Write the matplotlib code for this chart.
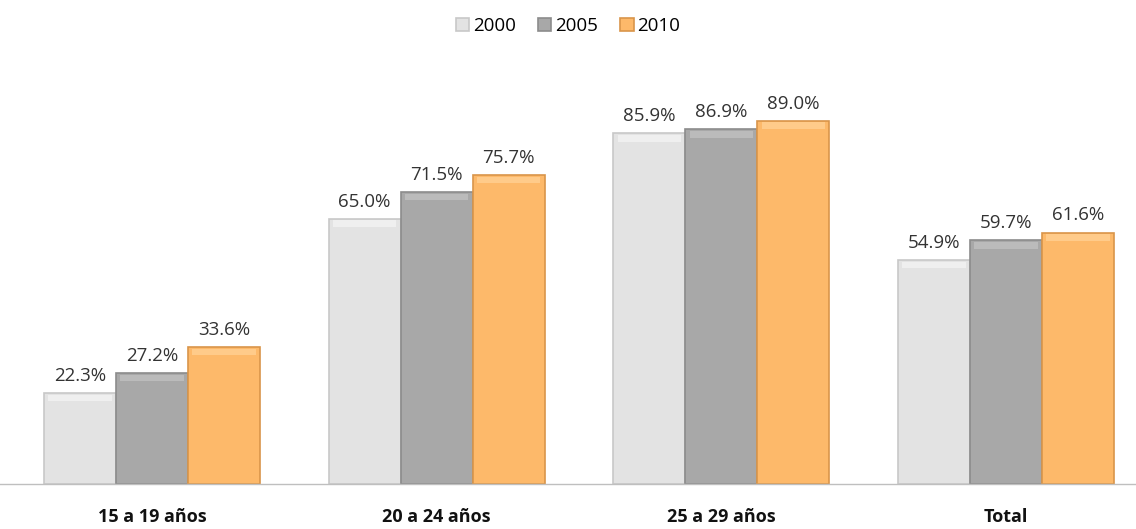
import numpy as np
import matplotlib
matplotlib.use('Agg')
from matplotlib import pyplot as plt

plt.rcParams['font.family'] = ['Open Sans', 'DejaVu Sans']

## data
categories = ['15 a 19 años', '20 a 24 años', '25 a 29 años', 'Total']
years      = ['2000', '2005', '2010']
v2000      = [22.3, 65.0, 85.9, 54.9]
v2005      = [27.2, 71.5, 86.9, 59.7]
v2010      = [33.6, 75.7, 89.0, 61.6]

series = [v2000, v2005, v2010]
colors = ['#E3E3E3', '#A8A8A8', '#FDB96A']
edges  = ['#C8C8C8', '#8C8C8C', '#D9954A']
tops   = ['#EFEFEF', '#BBBBBB', '#FFCB8A']

fig = plt.figure(figsize=(11.36, 5.29), dpi=100)
ax = fig.add_axes([0, 0.085, 1, 0.80])

x = np.arange(len(categories))
w = 0.253
for i, (vals, year) in enumerate(zip(series, years)):
    pos = x + (i - 1) * w
    ax.bar(pos, vals, w, color=colors[i], edgecolor=edges[i], linewidth=1.2,
           label=year, zorder=2)
    # fake bevel strip at the top of each bar
    ax.bar(pos, [1.6] * len(vals), w * 0.88, bottom=[v - 2.0 for v in vals],
           color=tops[i], linewidth=0, zorder=3)
    for p, v in zip(pos, vals):
        ax.text(p, v + 2.0, '{:.1f}%'.format(v), ha='center', va='bottom',
                fontsize=13.5, color='#333333')

ax.set_xlim(-0.534, 3.457)
ax.set_ylim(0, 103.7)
ax.set_yticks([])
ax.set_xticks(x)
ax.set_xticklabels(categories, fontsize=13, fontweight='bold', color='#111111')
ax.tick_params(axis='x', length=0, pad=17)
for s in ['top', 'left', 'right']:
    ax.spines[s].set_visible(False)
ax.spines['bottom'].set_color('#BFBFBF')
ax.spines['bottom'].set_linewidth(1)

fig.legend(loc='upper center', bbox_to_anchor=(0.5, 1.0), ncol=3, frameon=False,
           fontsize=13.5, handlelength=0.7, handleheight=0.7, handletextpad=0.2,
           columnspacing=1.2)

fig.savefig('out.png', dpi=100)
